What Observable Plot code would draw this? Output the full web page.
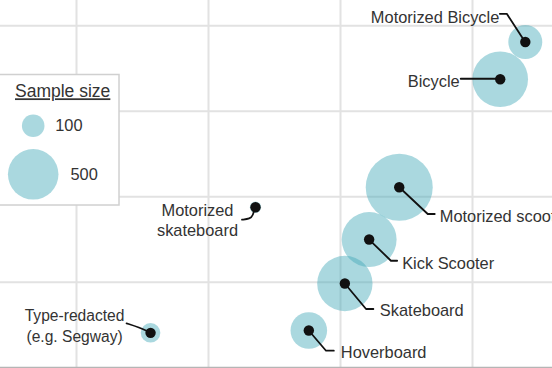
<!DOCTYPE html>
<html><head><meta charset="utf-8">
<script src="https://cdn.jsdelivr.net/npm/d3@7"></script>
<script src="https://cdn.jsdelivr.net/npm/@observablehq/plot@0.6"></script>
<style>
html,body{margin:0;padding:0;background:#fff;overflow:hidden}
#chart svg{display:block;overflow:hidden}
</style></head>
<body><div id="chart"></div>
<script>
// ---- data ----
const vehicles = ["Motorized Bicycle","Bicycle","Motorized scooter","Kick Scooter","Skateboard","Hoverboard","Type-redacted","Motorized skateboard"];
const labels = ["Motorized Bicycle","Bicycle","Motorized scooter","Kick Scooter","Skateboard","Hoverboard","Type-redacted\n(e.g. Segway)","Motorized\nskateboard"];
const xValues = [44.0, 42.1, 34.45, 32.17, 30.33, 27.6, 15.61, 23.56];
const yValues = [38.1, 33.75, 21.12, 15.0, 9.86, 4.36, 4.09, 18.78];
const sampleSizes = [226, 605, 879, 590, 600, 262, 75, 25];
const gridX = [10, 20, 30, 40];
const gridY = [10, 20, 30, 40];
const legendTitle = "Sample size";
const legendSizes = [100, 500];

// ---- layout / style of annotations (pixel offsets from each dot) ----
const notes = {
  "Motorized Bicycle":   {anchor:"end",    dx:-26,  dy:-26,  path:[[0,0],[-18,-27.7],[-25,-27.7]]},
  "Bicycle":             {anchor:"end",    dx:-40.5,dy:1,    path:[[0,0],[-39,0]]},
  "Motorized scooter":   {anchor:"start",  dx:40.5, dy:28.5, path:[[0,0],[29,27.3],[36,27.3]]},
  "Kick Scooter":        {anchor:"start",  dx:33,   dy:22.5, path:[[0,0],[22.3,21.7],[28.5,21.7]]},
  "Skateboard":          {anchor:"start",  dx:35,   dy:26,   path:[[0,0],[21.7,26],[29,26]]},
  "Hoverboard":          {anchor:"start",  dx:32,   dy:21,   path:[[0,0],[17.7,20.7],[25.5,20.7]]},
  "Type-redacted":       {anchor:"middle", dx:-76,  dy:-8,   size:15.6, lh:1.33, curve:true, path:[[0,0],[-11,-5],[-23.5,-9]]},
  "Motorized skateboard":{anchor:"middle", dx:-58,  dy:12,   lh:1.25, curve:true, path:[[0,0],[-2,9],[-5,12],[-13,13]]}
};
const teal = "#42a8b8", tealOpacity = 0.45, ink = "#333", font = "'Liberation Sans', Arial, sans-serif";

const rows = vehicles.map((name, i) => ({name, label: labels[i], x: xValues[i], y: yValues[i], n: sampleSizes[i]}));

function leaders(index, scales) {
  const g = d3.create("svg:g").attr("fill","none").attr("stroke","#111")
    .attr("stroke-width",1.8).attr("stroke-linejoin","round").attr("stroke-linecap","round");
  for (const d of rows) {
    const a = notes[d.name], px = scales.x(d.x), py = scales.y(d.y);
    const line = d3.line().curve(a.curve ? d3.curveBasis : d3.curveLinear);
    g.append("path").attr("d", line(a.path.map(([ox, oy]) => [px + ox, py + oy])));
  }
  return g.node();
}

function legend(index, scales) {
  const g = d3.create("svg:g").attr("font-family", font).attr("text-anchor", "start");
  g.append("rect").attr("x",-2).attr("y",74.5).attr("width",121).attr("height",130.5)
    .attr("fill","#fff").attr("stroke","#d0d0d0").attr("stroke-width",1.5);
  g.append("text").attr("x",15).attr("y",97.3).attr("font-size",17.5).attr("fill",ink)
    .attr("text-decoration","underline").text(legendTitle);
  const cy = [125.7, 174.3], cx = 33.2, gap = [10.7, 12];
  legendSizes.forEach((s, i) => {
    const r = scales.r(s);
    g.append("circle").attr("cx",cx).attr("cy",cy[i]).attr("r",r).attr("fill",teal).attr("fill-opacity",tealOpacity);
    g.append("text").attr("x",cx + r + gap[i]).attr("y",cy[i]).attr("dy","0.32em")
      .attr("font-size",16.4).attr("fill",ink).text(String(s));
  });
  return g.node();
}

const labelMarks = rows.map(d => {
  const a = notes[d.name];
  return Plot.text([d], {x:"x", y:"y", text:"label", dx:a.dx, dy:a.dy, textAnchor:a.anchor,
    lineAnchor:"middle", fontSize:a.size || 16.4, lineHeight:a.lh || 1.25, fill:ink});
});

const chart = Plot.plot({
  width: 552, height: 368, margin: 0,
  style: {fontFamily: font, background: "#fff", overflow: "hidden"},
  x: {domain: [10, 40], range: [76, 472], axis: null},
  y: {domain: [0, 40], range: [367.3, 25.3], axis: null},
  r: {type: "sqrt", domain: [0, 100], range: [0, 11.3]},
  marks: [
    Plot.ruleX(gridX, {stroke: "#e2e2e2", strokeWidth: 2}),
    Plot.ruleY(gridY, {stroke: "#e2e2e2", strokeWidth: 2}),
    Plot.ruleY([0], {stroke: "#b5b5b5", strokeWidth: 2}),
    Plot.dot(rows, {x: "x", y: "y", r: "n", fill: teal, fillOpacity: tealOpacity}),
    leaders,
    Plot.dot(rows, {x: "x", y: "y", r: 5.2, fill: "#111"}),
    ...labelMarks,
    legend
  ]
});
document.getElementById("chart").appendChild(chart);
</script></body></html>
